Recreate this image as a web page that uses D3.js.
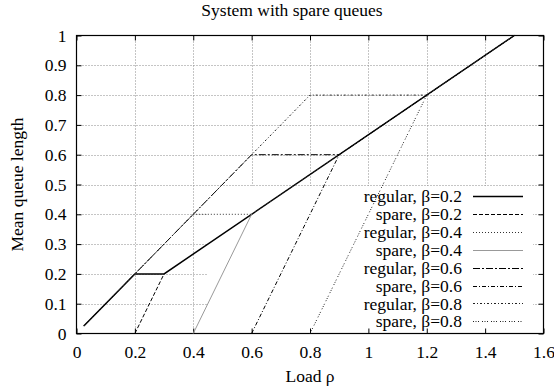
<!DOCTYPE html>
<html>
<head>
<meta charset="utf-8">
<script src="https://cdn.jsdelivr.net/npm/d3@7"></script>
<style>
  html, body { margin: 0; padding: 0; background: #fff; }
  svg { display: block; font-family: "Liberation Serif", "DejaVu Serif", serif; }
</style>
</head>
<body>
<svg id="chart" width="554" height="391"></svg>
<script>
// Mean queue length versus load for regular and spare queues
const titleText = "System with spare queues";
const xLabel = "Load \u03C1";
const yLabel = "Mean queue length";
const xTicks = [0, 0.2, 0.4, 0.6, 0.8, 1, 1.2, 1.4, 1.6];
const yTicks = [0, 0.1, 0.2, 0.3, 0.4, 0.5, 0.6, 0.7, 0.8, 0.9, 1];

const seriesNames = [
  "regular, \u03B2=0.2", "spare, \u03B2=0.2",
  "regular, \u03B2=0.4", "spare, \u03B2=0.4",
  "regular, \u03B2=0.6", "spare, \u03B2=0.6",
  "regular, \u03B2=0.8", "spare, \u03B2=0.8"
];
// load values and queue lengths of each curve
const regular02Load = [0.025, 0.2, 0.3, 1.5];
const regular02Len  = [0.025, 0.2, 0.2, 1.0];
const spare02Load   = [0.2, 0.3];
const spare02Len    = [0.0, 0.2];
const regular04Load = [0.025, 0.4, 0.6, 1.5];
const regular04Len  = [0.025, 0.4, 0.4, 1.0];
const spare04Load   = [0.4, 0.6];
const spare04Len    = [0.0, 0.4];
const regular06Load = [0.025, 0.6, 0.9, 1.5];
const regular06Len  = [0.025, 0.6, 0.6, 1.0];
const spare06Load   = [0.6, 0.9];
const spare06Len    = [0.0, 0.6];
const regular08Load = [0.025, 0.8, 1.2, 1.5];
const regular08Len  = [0.025, 0.8, 0.8, 1.0];
const spare08Load   = [0.8, 1.2];
const spare08Len    = [0.0, 0.8];

const loads = [regular02Load, spare02Load, regular04Load, spare04Load,
               regular06Load, spare06Load, regular08Load, spare08Load];
const lens  = [regular02Len, spare02Len, regular04Len, spare04Len,
               regular06Len, spare06Len, regular08Len, spare08Len];

// line styles per series
const styles = [
  { color: "#000", width: 1.5, dash: null },
  { color: "#000", width: 1, dash: "4,2" },
  { color: "#333", width: 1, dash: "1,2" },
  { color: "#999", width: 1, dash: null },
  { color: "#000", width: 1, dash: "7,2,2,2" },
  { color: "#000", width: 1, dash: "4,2,1,2" },
  { color: "#222", width: 1, dash: "2,2,1,2" },
  { color: "#222", width: 1, dash: "1,1.5,1,1.5,1,3" }
];

const L = 76.5, R = 543.5, T = 35.5, B = 333.5;
const fs = 17.5;

const svg = d3.select("#chart");
const x = d3.scaleLinear().domain([0, 1.6]).range([L, R]);
const y = d3.scaleLinear().domain([0, 1]).range([B, T]);

// grid
const grid = svg.append("g").attr("stroke", "#8a8a8a").attr("stroke-width", 1)
  .attr("stroke-dasharray", "1,2").attr("fill", "none");
grid.selectAll("line.gx").data(xTicks.slice(1, -1)).join("line")
  .attr("x1", d => Math.round(x(d)) + 0.5).attr("x2", d => Math.round(x(d)) + 0.5)
  .attr("y1", T).attr("y2", B);
grid.selectAll("line.gy").data(yTicks.slice(1, -1)).join("line")
  .attr("y1", d => Math.round(y(d)) + 0.5).attr("y2", d => Math.round(y(d)) + 0.5)
  .attr("x1", L).attr("x2", R);

// key background clears the grid behind the entries
svg.append("rect").attr("x", 207).attr("y", 186).attr("width", 326).attr("height", B - 186)
  .attr("fill", "#fff");

// axes with inward ticks on all sides
const tick = 5;
const xAxisB = d3.axisBottom(x).tickValues(xTicks).tickSizeInner(-tick).tickSizeOuter(0)
  .tickPadding(12).tickFormat(d3.format("~g"));
const xAxisT = d3.axisTop(x).tickValues(xTicks).tickSizeInner(-tick).tickSizeOuter(0).tickFormat("");
const yAxisL = d3.axisLeft(y).tickValues(yTicks).tickSizeInner(-tick).tickSizeOuter(0)
  .tickPadding(10).tickFormat(d3.format("~g"));
const yAxisR = d3.axisRight(y).tickValues(yTicks).tickSizeInner(-tick).tickSizeOuter(0).tickFormat("");

function styleAxis(g) {
  g.select(".domain").remove();
  g.selectAll("line").attr("stroke", "#000");
  g.selectAll("text").attr("font-size", fs).attr("font-family", "Liberation Serif").attr("fill", "#000");
}
svg.append("g").attr("transform", `translate(0,${B})`).call(xAxisB).call(styleAxis);
svg.append("g").attr("transform", `translate(0,${T})`).call(xAxisT).call(styleAxis);
svg.append("g").attr("transform", `translate(${L},0)`).call(yAxisL).call(styleAxis);
svg.append("g").attr("transform", `translate(${R},0)`).call(yAxisR).call(styleAxis);

// frame
svg.append("rect").attr("x", L).attr("y", T).attr("width", R - L).attr("height", B - T)
  .attr("fill", "none").attr("stroke", "#000").attr("stroke-width", 1.2);

// curves
const line = d3.line().x(d => x(d[0])).y(d => y(d[1]));
loads.forEach((ld, i) => {
  const pts = ld.map((v, k) => [v, lens[i][k]]);
  const st = styles[i];
  svg.append("path").datum(pts).attr("d", line)
    .attr("fill", "none").attr("stroke", st.color).attr("stroke-width", st.width)
    .attr("stroke-dasharray", st.dash);
});

// key
const key = svg.append("g");
seriesNames.forEach((name, i) => {
  const cy = 196 + i * 17.9;
  key.append("text").attr("x", 462).attr("y", cy).attr("dy", "0.35em")
    .attr("text-anchor", "end").attr("font-size", fs).text(name);
  const st = styles[i];
  key.append("line").attr("x1", 473).attr("x2", 523).attr("y1", Math.round(cy) + 0.5).attr("y2", Math.round(cy) + 0.5)
    .attr("stroke", st.color).attr("stroke-width", st.width).attr("stroke-dasharray", st.dash);
});

// titles
svg.append("text").attr("x", 292).attr("y", 16).attr("text-anchor", "middle")
  .attr("font-size", fs).text(titleText);
svg.append("text").attr("x", (L + R) / 2).attr("y", 382).attr("text-anchor", "middle")
  .attr("font-size", fs).text(xLabel);
svg.append("text").attr("transform", `translate(23,${(T + B) / 2}) rotate(-90)`)
  .attr("text-anchor", "middle").attr("font-size", fs).text(yLabel);
</script>
</body>
</html>
